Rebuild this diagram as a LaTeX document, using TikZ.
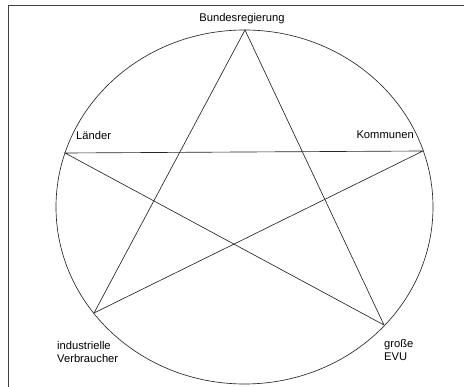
\documentclass[tikz,border=0pt]{standalone}
\usepackage{fontspec}
\setmainfont{Liberation Sans}
\begin{document}
\begin{tikzpicture}[x=1pt,y=-1pt,
  lbl/.style={inner sep=0pt, font=\fontsize{11.2}{13.8}\selectfont, align=left},
  edge/.style={line width=0.65pt, black!85},
  framel/.style={line width=1pt, black!75}]
\useasboundingbox (0,0) rectangle (464,387);
% frame (top and left only)
\coordinate (f1) at (8,387);
\coordinate (f2) at (8,6);
\coordinate (f3) at (464,6);
\draw[framel] (f1) -- (f2) -- (f3);
% ellipse
\coordinate (c) at (244.5,207);
\draw[edge] (c) ellipse [x radius=188.5, y radius=177];
% star points
\coordinate (B) at (245,30);
\coordinate (L) at (65,153);
\coordinate (K) at (423,151);
\coordinate (I) at (94,313);
\coordinate (E) at (384,325);
\draw[edge] (B) -- (I) -- (K) -- (L) -- (E) -- cycle;
% labels
\node[lbl] (tB) at (242,19) {Bundesregierung};
\node[lbl, anchor=west] (tL) at (76,136) {Länder};
\node[lbl, anchor=east] (tK) at (414,135) {Kommunen};
\node[lbl, anchor=west] (tI) at (57,352) {industrielle\\Verbraucher};
\node[lbl, anchor=west] (tE) at (384,350) {große\\EVU};
\end{tikzpicture}
\end{document}
